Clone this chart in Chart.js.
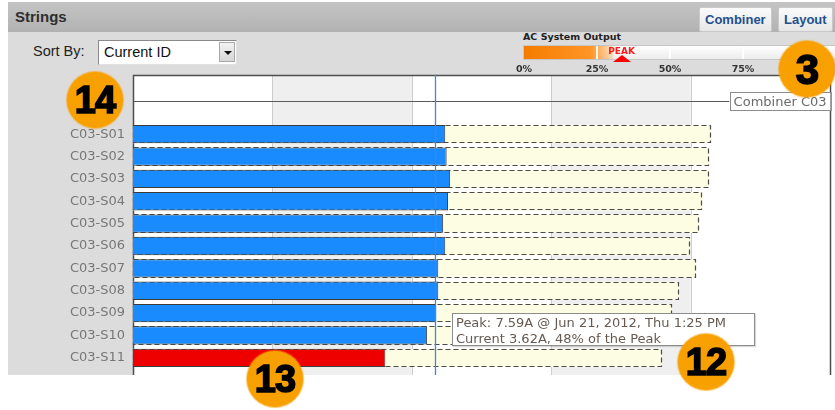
<!DOCTYPE html>
<html>
<head>
<meta charset="utf-8">
<script src="https://cdn.jsdelivr.net/npm/chart.js@4.4.1/dist/chart.umd.min.js"></script>
<style>
    html, body {
        margin: 0;
        padding: 0;
        width: 835px;
        height: 410px;
        overflow: hidden;
        background: #fff;
        font-family: Arial, "Liberation Sans", sans-serif;
    }
    .abs { position: absolute; }
    #topbar {
        left: 8px; top: 2px; width: 827px; height: 30px;
        background: linear-gradient(#c4c4c4, #b2b2b2);
    }
    #topbar .title {
        position: absolute; left: 7px; top: 6px;
        font-weight: bold; font-size: 15px; color: #2e2e2e;
    }
    .btn {
        position: absolute; top: 5px; height: 23px;
        background: linear-gradient(#fbfbfb, #e6e6e6);
        border: 1px solid #c9c9c9; border-radius: 2px;
        font-weight: bold; font-size: 13px; color: #1f4f8f;
        line-height: 23px; padding: 0 5px;
    }
    #panel {
        left: 8px; top: 32px; width: 827px; height: 343px;
        background: #dcdcdc;
    }
    #rightgap { left: 831px; top: 75px; width: 4px; height: 300px; background: #fff; }
    #sortlabel { left: 33px; top: 43px; font-size: 14.5px; color: #222; }
    #sortbox {
        left: 98px; top: 40px; width: 137px; height: 23px;
        background: #fff; border: 1px solid #8a8a8a; border-right-color: #e0e0e0; border-bottom-color: #e0e0e0;
        font-size: 14.5px; color: #111; line-height: 23px; text-indent: 5px;
    }
    #sortarrow {
        position: absolute; right: 1px; top: 1px; width: 16px; height: 20px;
        background: linear-gradient(#f2f2f2, #d6d6d6); border: 1px solid #a9a9a9; box-sizing: border-box;
    }
    #sortarrow:after {
        content: ''; position: absolute; left: 4px; top: 8px;
        border-left: 4px solid transparent; border-right: 4px solid transparent; border-top: 4px solid #111;
    }
    #gauge-title { left: 523px; top: 31px; font: bold 9.5px "DejaVu Sans", sans-serif; color: #222; }
    #gauge {
        left: 523px; top: 45px; width: 320px; height: 13px;
        border: 1px solid #c6c6c6; background: linear-gradient(#ffffff, #ececec); overflow: hidden;
    }
    #gauge-fill { left: 0; top: 0; height: 13px; background: linear-gradient(to right, #f57c00, #ff9526 75%, rgba(255, 170, 80, 0.3)); }
    .gauge-sep { top: 0; width: 2px; height: 13px; background: #fff; opacity: 0.9; }
    #gauge-peak { font: bold 9px "DejaVu Sans", sans-serif; color: #ff1a1a; top: 46px; }
    #gauge-marker {
        top: 55px; width: 0; height: 0;
        border-left: 9px solid transparent; border-right: 9px solid transparent; border-bottom: 7px solid #f00;
    }
    .gauge-tick { top: 63px; font: bold 9.5px "DejaVu Sans", sans-serif; color: #333; transform: translateX(-50%); }
    canvas { position: absolute; left: 0; top: 0; }
    #tip {
        left: 452px; top: 313px; width: 303px; height: 33px;
        background: #fff; border: 1px solid #8c8c8c; box-shadow: 1px 1px 1px rgba(0, 0, 0, 0.15);
        font: 13px "DejaVu Sans", sans-serif; color: #665a50; line-height: 16px; padding: 1px 0 0 3px;
        white-space: nowrap; box-sizing: border-box;
    }
    .badge {
        width: 56px; height: 56px; border-radius: 50%; background: #f7a000;
        color: #000; font: bold 38px "Liberation Sans", Arial, sans-serif;
        -webkit-text-stroke: 1.6px #000; text-align: center; line-height: 57px; letter-spacing: -1px;
        box-shadow: 0 0 1px 1px rgba(247, 160, 0, 0.6);
    }
</style>
</head>
<body>
<div id="topbar" class="abs">
    <span class="title">Strings</span>
    <span class="btn" style="left:691px;">Combiner</span>
    <span class="btn" style="left:770px;">Layout</span>
</div>
<div id="panel" class="abs"></div>
<div id="rightgap" class="abs"></div>
<div id="sortlabel" class="abs">Sort By:</div>
<div id="sortbox" class="abs">Current ID<span id="sortarrow"></span></div>
<div id="gauge-title" class="abs">AC System Output</div>
<div id="gauge" class="abs"><div id="gauge-fill" class="abs"></div></div>
<canvas id="strings" width="835" height="410"></canvas>
<div id="tip" class="abs"></div>
<div class="badge abs" style="left:67px; top:72px;">14</div>
<div class="badge abs" style="left:779px; top:41px; font-size:42px;">3</div>
<div class="badge abs" style="left:678px; top:334px;">12</div>
<div class="badge abs" style="left:247px; top:351px;">13</div>

<script>
const stringIds = ['C03-S01', 'C03-S02', 'C03-S03', 'C03-S04', 'C03-S05', 'C03-S06',
    'C03-S07', 'C03-S08', 'C03-S09', 'C03-S10', 'C03-S11'];
const currentAmps = [4.48, 4.50, 4.55, 4.52, 4.45, 4.48, 4.38, 4.38, 4.35, 4.22, 3.62];
const peakAmps = [8.29, 8.26, 8.26, 8.17, 8.12, 7.99, 8.08, 7.84, 7.73, 7.70, 7.59];
const averageAmps = 4.33;
const ampTicks = [0, 2, 4, 6, 8, 10];
const combinerName = 'Combiner C03';

const hoveredString = 10;
const hoveredPeakTime = 'Jun 21, 2012, Thu 1:25 PM';

const acOutputPercent = 30.5;
const acPeakPercent = 34;
const gaugeTicks = [0, 25, 50, 75];

const LOW_RATIO = 0.9;
const BLUE = '#198bff';
const RED = '#ee0000';

// AC system output gauge (plain DOM, 292px per 100%)
const GAUGE_LEFT = 523;
const GAUGE_SPAN = 292;
const gauge = document.getElementById('gauge');
document.getElementById('gauge-fill').style.width = (acOutputPercent / 100 * GAUGE_SPAN) + 'px';
gaugeTicks.slice(1).forEach((pct) => {
    const sep = document.createElement('div');
    sep.className = 'gauge-sep abs';
    sep.style.left = (pct / 100 * GAUGE_SPAN - 1) + 'px';
    gauge.appendChild(sep);
});
gaugeTicks.forEach((pct) => {
    const label = document.createElement('div');
    label.className = 'gauge-tick abs';
    label.style.left = (GAUGE_LEFT + pct / 100 * GAUGE_SPAN + 1) + 'px';
    label.textContent = pct + '%';
    document.body.appendChild(label);
});
const peakX = GAUGE_LEFT + acPeakPercent / 100 * GAUGE_SPAN;
const marker = document.createElement('div');
marker.id = 'gauge-marker';
marker.className = 'abs';
marker.style.left = (peakX - 9) + 'px';
document.body.appendChild(marker);
const peakLabel = document.createElement('div');
peakLabel.id = 'gauge-peak';
peakLabel.className = 'abs';
peakLabel.style.left = (peakX - 14) + 'px';
peakLabel.textContent = 'PEAK';
document.body.appendChild(peakLabel);

// hover tooltip text
const cur = currentAmps[hoveredString];
const pk = peakAmps[hoveredString];
document.getElementById('tip').innerHTML =
    'Peak: ' + pk.toFixed(2) + 'A @ ' + hoveredPeakTime + '<br>' +
    'Current ' + cur.toFixed(2) + 'A, ' + Math.round(cur / pk * 100) + '% of the Peak';

const barColors = currentAmps.map((v) => (v < averageAmps * LOW_RATIO ? RED : BLUE));

const stringFramePlugin = {
    id: 'stringFrame',
    beforeDatasetsDraw(chart) {
        const { ctx, chartArea, scales: { x } } = chart;
        const pitch = (chartArea.bottom - chartArea.top) / stringIds.length;
        const top = Math.round(chartArea.top - pitch - 26) + 0.5;
        const bottom = Math.round(chartArea.bottom + 6);
        const left = Math.round(chartArea.left) + 0.5;
        const right = Math.round(chartArea.right) + 0.5;

        ctx.save();
        ctx.fillStyle = '#fff';
        ctx.fillRect(left, top, right - left, bottom - top);

        for (let i = 0; i < ampTicks.length - 1; i++) {
            if (i % 2 === 1) {
                const x0 = x.getPixelForValue(ampTicks[i]);
                const x1 = x.getPixelForValue(ampTicks[i + 1]);
                ctx.fillStyle = '#efefef';
                ctx.fillRect(x0, top, x1 - x0, bottom - top);
            }
        }

        ctx.strokeStyle = '#cdcdcd';
        ctx.lineWidth = 1;
        ampTicks.slice(1, -1).forEach((v) => {
            const gx = Math.round(x.getPixelForValue(v)) + 0.5;
            ctx.beginPath();
            ctx.moveTo(gx, top);
            ctx.lineTo(gx, bottom);
            ctx.stroke();
        });

        // frame
        ctx.strokeStyle = '#4d4d4d';
        ctx.lineWidth = 1.5;
        ctx.beginPath();
        ctx.moveTo(left, bottom);
        ctx.lineTo(left, top);
        ctx.lineTo(right, top);
        ctx.lineTo(right, bottom);
        ctx.stroke();

        // combiner header row
        const headY = Math.round(chartArea.top - pitch) + 0.5;
        ctx.font = '13px "DejaVu Sans"';
        const boxW = ctx.measureText(combinerName).width + 8;
        const boxL = right - boxW;
        ctx.strokeStyle = '#5a5a5a';
        ctx.lineWidth = 1;
        ctx.beginPath();
        ctx.moveTo(left, headY);
        ctx.lineTo(boxL, headY);
        ctx.stroke();
        ctx.fillStyle = '#fff';
        ctx.fillRect(boxL, headY - 9, boxW, 18);
        ctx.strokeStyle = '#8c8c8c';
        ctx.strokeRect(Math.round(boxL) + 0.5, headY - 9, boxW, 18);
        ctx.fillStyle = '#6a6a6a';
        ctx.textBaseline = 'middle';
        ctx.fillText(combinerName, boxL + 4, headY + 1);
        ctx.restore();
    },
    afterDatasetDraw(chart, args) {
        if (args.index !== 1) {
            return;
        }
        const { ctx } = chart;
        ctx.save();
        ctx.strokeStyle = '#4a4a4a';
        ctx.lineWidth = 1.2;
        ctx.setLineDash([5, 3]);
        args.meta.data.forEach((bar) => {
            const { x, y, base, height } = bar.getProps(['x', 'y', 'base', 'height'], true);
            const t = Math.round(y - height / 2) + 0.5;
            const b = Math.round(y + height / 2) - 0.5;
            ctx.strokeRect(Math.round(base) + 0.5, t, Math.round(x - base) - 1, b - t);
        });
        ctx.restore();
    },
    afterDatasetsDraw(chart) {
        const { ctx, chartArea, scales: { x } } = chart;
        const pitch = (chartArea.bottom - chartArea.top) / stringIds.length;
        const ax = Math.round(x.getPixelForValue(averageAmps)) + 0.5;
        ctx.save();
        ctx.strokeStyle = '#3f86e6';
        ctx.lineWidth = 1.3;
        ctx.beginPath();
        ctx.moveTo(ax, chartArea.top - pitch - 26);
        ctx.lineTo(ax, chartArea.bottom + 6);
        ctx.stroke();
        ctx.restore();
    },
};

new Chart(document.getElementById('strings'), {
    type: 'bar',
    data: {
        labels: stringIds,
        datasets: [
            {
                label: 'Current',
                data: currentAmps,
                backgroundColor: barColors,
                borderColor: '#3c3c3c',
                borderWidth: 1,
                grouped: false,
                order: 0,
            },
            {
                label: 'Peak',
                data: peakAmps,
                backgroundColor: '#fdfde3',
                borderWidth: 0,
                grouped: false,
                order: 1,
            },
        ],
    },
    options: {
        indexAxis: 'y',
        responsive: false,
        maintainAspectRatio: false,
        animation: false,
        devicePixelRatio: 1,
        layout: {
            padding: { top: 123, bottom: 41, left: 0, right: 5 },
        },
        datasets: {
            bar: {
                categoryPercentage: 1,
                barPercentage: 0.82,
            },
        },
        plugins: {
            legend: { display: false },
            tooltip: { enabled: false },
        },
        scales: {
            x: {
                display: false,
                min: ampTicks[0],
                max: ampTicks[ampTicks.length - 1],
            },
            y: {
                grid: { display: false, drawTicks: false },
                border: { display: false },
                ticks: {
                    color: '#777',
                    padding: 8,
                    font: { family: '"DejaVu Sans"', size: 13 },
                },
                afterFit(scale) {
                    scale.width = 133;
                },
            },
        },
    },
    plugins: [stringFramePlugin],
});
</script>
</body>
</html>
